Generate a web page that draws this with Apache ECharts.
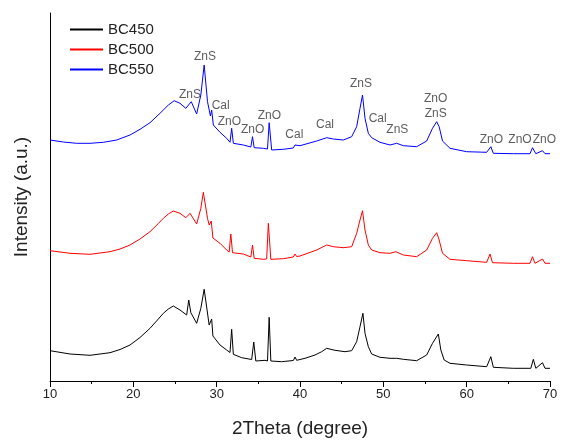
<!DOCTYPE html>
<html>
<head>
<meta charset="utf-8">
<script src="https://cdn.jsdelivr.net/npm/echarts@6/dist/echarts.min.js"></script>
<style>
html,body{margin:0;padding:0;background:#fff;}
#chart{width:572px;height:448px;}
</style>
</head>
<body>
<div id="chart"></div>
<script>
// 2Theta positions (degree) and intensities (a.u., stacked offsets as plotted)
const bc450Theta = [10.0,12.4,14.8,17.2,18.4,19.6,20.8,22.0,23.0,23.6,24.2,24.8,25.6,26.4,26.65,26.9,27.6,28.1,28.5,29.1,29.4,29.55,30.4,31.2,31.6,31.8,32.0,33.0,34.2,34.45,34.7,35.8,36.1,36.3,36.5,37.8,39.2,39.4,39.6,40.6,41.8,42.6,43.2,44.2,45.4,46.2,46.8,47.2,47.55,47.8,48.2,48.6,49.6,50.8,51.6,52.4,54.0,55.2,55.9,56.6,56.9,57.3,58.0,60.0,62.4,62.9,63.2,65.6,67.7,68.0,68.3,69.1,69.4,70.0];
const bc450Intensity = [30.3,27,25.7,28.3,31.5,36,43.5,52.7,62,67.7,72,75,71,66,81,68.3,57.7,72.7,91.7,56,62,45,36,31,28.5,51.7,26.7,23.3,21.5,39,20,20.7,20,63.7,20,19.3,20.5,24,20.7,22.7,26,29.3,32.7,30.7,29.3,30.3,39.3,54.3,67.7,47.7,34.3,27,23.7,22.7,22.7,21.7,20.3,26,37.7,47,31,21,17.7,16,14.3,24.3,13.7,12.7,12.7,21.7,12.7,18.3,12.7,12.7];

const bc500Theta = [10.0,12.4,14.8,17.2,18.4,19.6,20.8,22.0,23.0,23.6,24.2,24.8,25.6,26.3,26.8,27.6,28.1,28.4,28.9,29.1,29.35,29.55,30.4,31.2,31.5,31.7,31.9,33.2,34.1,34.3,34.5,35.6,36.0,36.2,36.5,38.0,39.2,39.4,39.6,40.0,42.0,43.2,44.0,45.2,46.2,46.8,47.2,47.5,47.8,48.2,48.6,49.6,50.8,51.5,52.4,54.0,55.2,55.9,56.4,56.7,57.1,58.0,60.0,62.4,62.8,63.1,65.6,67.6,67.9,68.2,69.1,69.4,70.0];
const bc500Intensity = [130.3,127.7,126.7,129.3,132,136,142,149.3,157.5,162.7,167,170,167.7,163.3,167.7,157,172.7,188.7,162.7,156,160,143,137.7,131,129,147,128.3,127,124,136,122.7,121.7,122,157.7,121.7,122.3,124,127,124.5,125,131,136,134.3,133.3,134.3,147.7,161,170.3,151,136,131,128.3,127.7,129.3,126,124.3,131,142.7,148.3,141,127.7,121.7,120.3,118.7,127,118.3,117.7,117.7,124.3,117.7,122,117.7,117.7];

const bc550Theta = [10.0,11.6,13.2,14.8,16.4,18.0,19.6,20.8,22.0,23.2,24.2,24.9,25.6,26.3,26.95,27.6,28.1,28.5,28.9,29.25,29.4,29.6,30.4,31.2,31.6,31.8,32.0,33.2,34.1,34.3,34.5,35.6,36.1,36.3,36.6,38.0,39.2,39.4,39.6,40.0,42.0,43.2,44.0,45.2,46.2,46.8,47.2,47.5,47.8,48.2,48.6,49.6,50.8,51.6,52.4,54.0,55.2,55.9,56.4,56.7,57.1,58.0,60.0,62.4,62.9,63.2,65.6,67.6,67.9,68.3,69.1,69.4,70.0];
const bc550Intensity = [241,239,237.7,237.7,238.7,241,246,251.7,258.3,267.7,276,280.3,277.7,272.7,279.3,267,286,316,279.3,265,271,256,248.7,242.7,238.7,252.7,237.7,236,234,244.3,233.3,232.7,232,258.3,231,231.7,233,236,234,235.3,240,243.3,242,241,244.3,254.3,272.7,286,262.7,247.7,243.3,238.7,236,237.7,235.3,234.3,240,252.7,259.3,254.3,240,232.7,229.3,228.7,234.3,227.7,227.3,227.3,233.3,227.3,230.3,227.3,227.3];

// Phase annotations: position (degree, intensity) and text
const peakLabelTheta = [28.6,26.8,30.48,31.52,34.32,36.32,39.32,43.0,47.32,49.32,51.68,56.28,56.28,62.96,66.4,69.32];
const peakLabelIntensity = [324.3,286.7,275,259.3,251,265.3,246.7,256,297.7,262.7,251,282,267,241.7,241.7,241.7];
const peakLabelText = ['ZnS','ZnS','Cal','ZnO','ZnO','ZnO','Cal','Cal','ZnS','Cal','ZnS','ZnO','ZnS','ZnO','ZnO','ZnO'];

const seriesNames = ['BC450','BC500','BC550'];
const xTicks = [10,20,30,40,50,60,70];

const pairs = (xs, ys) => xs.map((x, i) => [x, ys[i]]);
const FONT = '"Liberation Sans", Arial, sans-serif';

const chart = echarts.init(document.getElementById('chart'), null, {renderer: 'canvas'});
chart.setOption({
  backgroundColor: '#ffffff',
  animation: false,
  textStyle: {fontFamily: FONT},
  grid: {left: 50, right: 22, top: 13, bottom: 67, containLabel: false},
  legend: {
    data: seriesNames,
    orient: 'vertical',
    left: 69, top: 22, padding: 0,
    itemWidth: 33, itemHeight: 14, itemGap: 5,
    itemStyle: {opacity: 0},
    textStyle: {fontSize: 15, color: '#222', fontFamily: FONT}
  },
  xAxis: {
    type: 'value',
    min: xTicks[0], max: xTicks[xTicks.length - 1], interval: 10,
    name: '2Theta (degree)', nameLocation: 'middle', nameGap: 38,
    nameTextStyle: {fontSize: 19, color: '#222', fontFamily: FONT},
    axisLine: {show: true, lineStyle: {color: '#000', width: 1}},
    axisTick: {show: true, inside: false, length: 6, lineStyle: {color: '#000'}},
    minorTick: {show: true, splitNumber: 2, length: 3, lineStyle: {color: '#000'}},
    axisLabel: {fontSize: 13, color: '#222', margin: 7, fontFamily: FONT},
    splitLine: {show: false}
  },
  yAxis: {
    type: 'value', min: 0, max: 368,
    name: 'Intensity (a.u.)', nameLocation: 'middle', nameGap: 19,
    nameTextStyle: {fontSize: 19, color: '#222', fontFamily: FONT},
    axisLine: {show: true, lineStyle: {color: '#000', width: 1}},
    axisTick: {show: false},
    axisLabel: {show: false},
    splitLine: {show: false}
  },
  series: [
    {name: seriesNames[0], type: 'line', symbol: 'none', data: pairs(bc450Theta, bc450Intensity),
     lineStyle: {color: '#000000', width: 1}, itemStyle: {color: '#000000'}},
    {name: seriesNames[1], type: 'line', symbol: 'none', data: pairs(bc500Theta, bc500Intensity),
     lineStyle: {color: '#ff0000', width: 1}, itemStyle: {color: '#ff0000'}},
    {name: seriesNames[2], type: 'line', symbol: 'none', data: pairs(bc550Theta, bc550Intensity),
     lineStyle: {color: '#0000ff', width: 1}, itemStyle: {color: '#0000ff'}},
    {name: 'labels', type: 'scatter', symbolSize: 0, silent: true,
     data: peakLabelTheta.map((x, i) => [x, peakLabelIntensity[i], peakLabelText[i]]),
     label: {show: true, position: 'inside', formatter: p => p.value[2],
             fontSize: 12, color: '#333', fontFamily: FONT}}
  ]
});
</script>
</body>
</html>
